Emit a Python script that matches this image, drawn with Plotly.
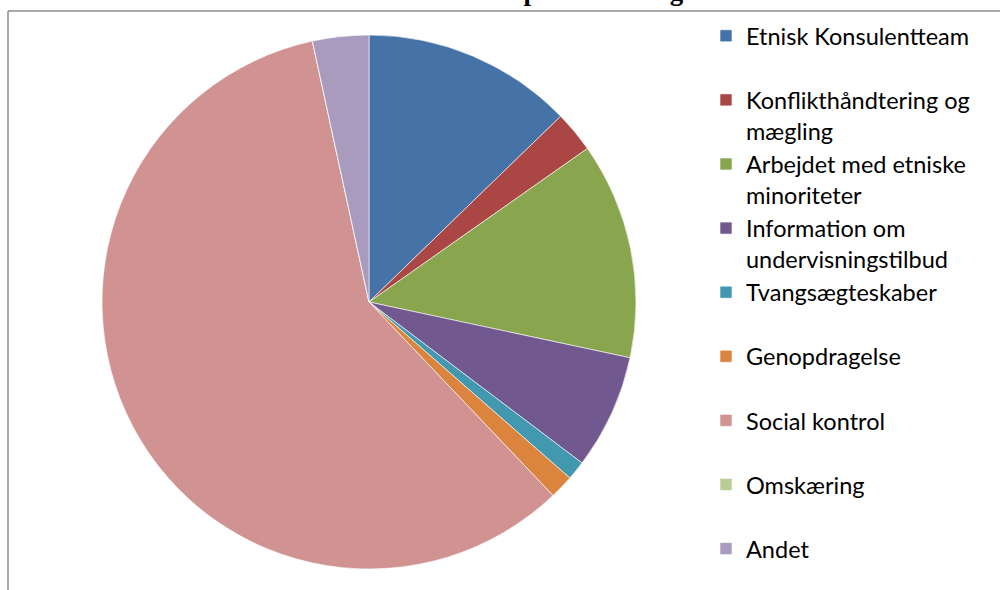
import plotly.graph_objects as go

categories = [
    "Etnisk Konsulentteam",
    "Konflikthåndtering og<br>mægling",
    "Arbejdet med etniske<br>minoriteter",
    "Information om<br>undervisningstilbud",
    "Tvangsægteskaber",
    "Genopdragelse",
    "Social kontrol",
    "Omskæring",
    "Andet",
]
values = [12.75, 2.5, 13.1, 6.95, 1.15, 1.45, 58.7, 0.0, 3.4]
colors = ["#4572A7", "#AA4643", "#89A54E", "#71588F", "#4198AF",
          "#DB843D", "#D19392", "#B9CD96", "#A99BBD"]
title_text = "Henvendelser fordelt på emnekategori"

# pad single-line legend labels to two lines (Excel-like slots), except the last
legend_labels = [c if ("<br>" in c or i == len(categories) - 1) else c + "<br>\u00a0"
                 for i, c in enumerate(categories)]

W, H = 1000, 590
cx, cy, r = 369, 302, 267

fig = go.Figure(go.Pie(
    labels=legend_labels,
    values=values,
    marker=dict(colors=colors, line=dict(color="white", width=0.6)),
    sort=False,
    direction="clockwise",
    rotation=0,
    textinfo="none",
    hoverinfo="label+value",
    domain=dict(x=[(cx - r) / W, (cx + r) / W],
                y=[(H - cy - r) / H, (H - cy + r) / H]),
))

fig.update_layout(
    width=W, height=H,
    margin=dict(l=0, r=0, t=0, b=0),
    paper_bgcolor="white",
    plot_bgcolor="white",
    showlegend=True,
    legend=dict(
        x=706 / W, y=1 - 14 / H, xanchor="left", yanchor="top",
        font=dict(family="Lato, Carlito, Calibri, sans-serif", size=23.5, color="#000000"),
        valign="top",
        traceorder="normal",
        bgcolor="rgba(0,0,0,0)",
    ),
    shapes=[
        dict(type="line", xref="paper", yref="paper", x0=8 / W, x1=1, y0=1 - 11 / H, y1=1 - 11 / H,
             line=dict(color="#8c8c8c", width=1.5)),
        dict(type="line", xref="paper", yref="paper", x0=8 / W, x1=8 / W, y0=0, y1=1 - 11 / H,
             line=dict(color="#8c8c8c", width=1.5)),
    ],
    annotations=[
        dict(text="<b>" + title_text + "</b>", xref="paper", yref="paper",
             x=496 / W, y=1, xanchor="center", yanchor="bottom", yshift=-8,
             showarrow=False,
             font=dict(family="Liberation Serif, Times New Roman, serif", size=27, color="#000000")),
    ],
)

fig.write_html("out.html",
               config={"displayModeBar": False},
               post_script="document.body.style.margin='0';document.body.style.overflow='hidden';")
